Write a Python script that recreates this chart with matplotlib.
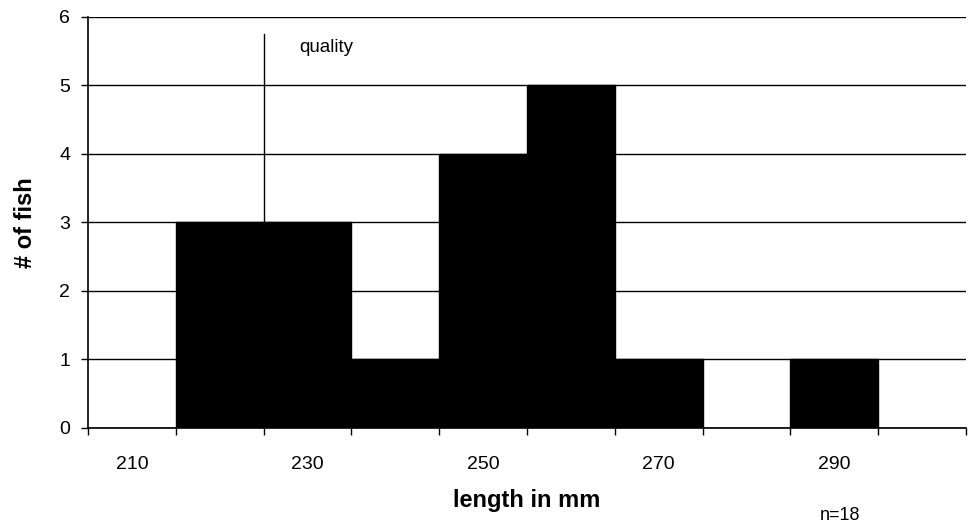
import matplotlib
matplotlib.use("Agg")
import matplotlib.pyplot as plt
import numpy as np

plt.rcParams['font.family'] = ['Liberation Sans', 'DejaVu Sans']

bins = [210, 220, 230, 240, 250, 260, 270, 280, 290, 300]
counts = [0, 3, 3, 1, 4, 5, 1, 0, 1, 0]
tick_labels = ["210", "230", "250", "270", "290"]
quality_mm = 225
quality_top = 5.75

fig = plt.figure(figsize=(9.68, 5.29), dpi=100)
ax = fig.add_axes([0.091, 0.191, 0.907, 0.777])

idx = np.arange(len(bins))
ax.set_axisbelow(True)
ax.yaxis.grid(True, color='black', linewidth=1.0)
ax.bar(idx, counts, width=1.0, color='black', edgecolor='black', zorder=3)

# quality marker line at bin boundary
qx = (quality_mm - bins[0]) / (bins[1] - bins[0])
qi = bins.index(220)
ax.plot([qx, qx], [counts[qi], quality_top], color='black', linewidth=1.0, zorder=4)
ax.text(qx + 0.4, 5.55, "quality", fontsize=13.5, ha='left', va='center')

ax.set_xlim(-0.5, len(bins) - 0.5)
ax.set_ylim(0, 6)
ax.set_yticks(range(0, 7))
ax.tick_params(axis='y', labelsize=14, length=5, width=1, direction='out', pad=8)

major_pos = [bins.index(int(t)) for t in tick_labels]
ax.set_xticks(major_pos)
ax.set_xticklabels(tick_labels, fontsize=14)
ax.tick_params(axis='x', length=0, pad=20)
ax.set_xticks(np.arange(-0.5, len(bins), 1.0), minor=True)
ax.tick_params(axis='x', which='minor', length=5, width=1, direction='out')

for s in ['top', 'right']:
    ax.spines[s].set_visible(False)
ax.spines['left'].set_linewidth(1.2)
ax.spines['bottom'].set_linewidth(1.2)

ax.set_ylabel("# of fish", fontsize=17, fontweight='bold')
ax.yaxis.set_label_coords(-0.058, 0.5)
fig.text(527 / 968, 1 - 500 / 529, "length in mm", fontsize=17, fontweight='bold',
         ha='center', va='center')
fig.text(840 / 968, 1 - 515 / 529, "n=18", fontsize=13, ha='center', va='center')

fig.savefig("out.png", dpi=100)
